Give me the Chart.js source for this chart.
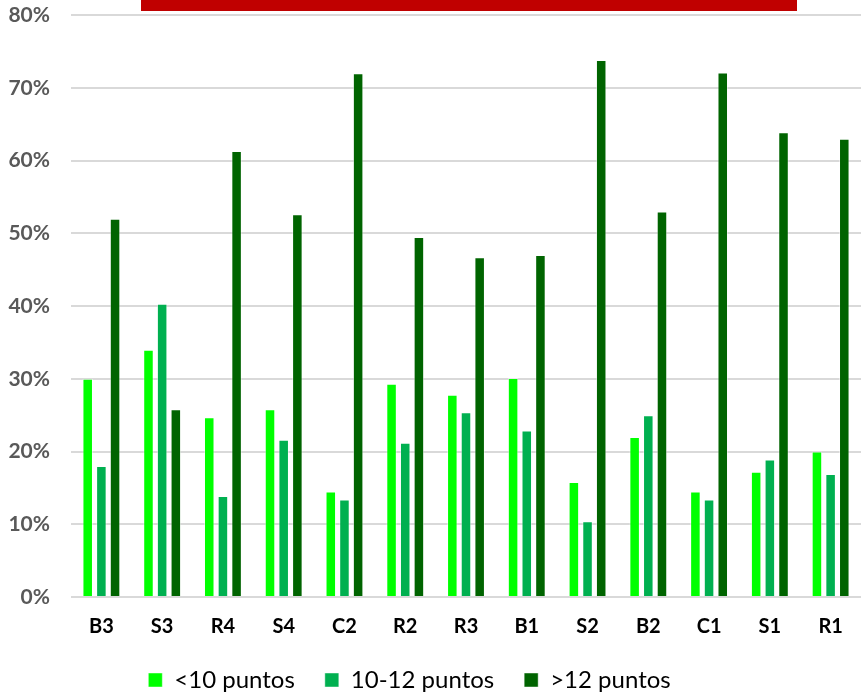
<!DOCTYPE html>
<html>
<head>
<meta charset="utf-8">
<script src="https://cdn.jsdelivr.net/npm/chart.js@4.4.1/dist/chart.umd.min.js"></script>
<style>
  html, body { margin: 0; padding: 0; background: #ffffff; }
  #wrap { width: 861px; height: 699px; position: relative; }
</style>
</head>
<body>
<div id="wrap"><canvas id="chart" width="861" height="699"></canvas></div>
<script>
// Groups along the x axis
const categories = ['B3', 'S3', 'R4', 'S4', 'C2', 'R2', 'R3', 'B1', 'S2', 'B2', 'C1', 'S1', 'R1'];

// Share of each group (%) per score band
const seriesNames = ['<10 puntos', '10-12 puntos', '>12 puntos'];
const menos10 = [30.0, 34.0, 24.7, 25.8, 14.5, 29.3, 27.8, 30.1, 15.8, 22.0, 14.5, 17.2, 20.0];
const entre10y12 = [18.0, 40.3, 13.9, 21.6, 13.4, 21.2, 25.4, 22.9, 10.4, 25.0, 13.4, 18.9, 16.9];
const mas12 = [52.0, 25.8, 61.3, 52.6, 72.0, 49.5, 46.7, 47.0, 73.8, 53.0, 72.1, 63.9, 63.0];

// Value axis ticks
const yTicks = [0, 10, 20, 30, 40, 50, 60, 70, 80];

const colors = ['#00FF00', '#00B050', '#006400'];
const seriesValues = [menos10, entre10y12, mas12];

// Red header band across the top
const headerBand = {
  id: 'headerBand',
  beforeDraw(chart) {
    const ctx = chart.ctx;
    ctx.save();
    ctx.fillStyle = '#C00000';
    ctx.fillRect(141, 0, 656, 11);
    ctx.restore();
  }
};

// Nudge the legend row a little left of centre and slightly lower
const legendOffset = {
  id: 'legendOffset',
  afterLayout(chart) {
    const lg = chart.legend;
    if (lg) {
      lg.left -= 21; lg.right -= 21;
      lg.top += 3; lg.bottom += 3;
    }
  }
};

new Chart(document.getElementById('chart'), {
  type: 'bar',
  data: {
    labels: categories,
    datasets: seriesValues.map((vals, i) => ({
      label: seriesNames[i],
      data: vals,
      backgroundColor: colors[i],
      borderColor: 'rgba(255,255,255,0.45)',
      borderWidth: 1,
      categoryPercentage: 0.675,
      barPercentage: 0.77
    }))
  },
  options: {
    responsive: false,
    animation: false,
    layout: { padding: { top: 15, left: 0, right: 0, bottom: 0 } },
    plugins: {
      legend: {
        position: 'bottom',
        labels: {
          boxWidth: 14,
          boxHeight: 14,
          padding: 30,
          color: '#000000',
          font: { family: 'Lato', size: 24 }
        }
      },
      tooltip: { enabled: false }
    },
    scales: {
      x: {
        afterFit(scale) { scale.height = scale.height - 22; },
        grid: { display: false, drawTicks: false },
        border: { display: false },
        ticks: {
          color: '#000000',
          padding: 18,
          font: { family: 'Lato', size: 20, weight: 'bold' }
        }
      },
      y: {
        min: 0,
        max: 80,
        afterFit(scale) {
          scale.width = 71;
          scale.paddingTop = 0;
          scale.paddingBottom = 0;
        },
        afterBuildTicks(scale) { scale.ticks = yTicks.map(v => ({ value: v })); },
        grid: { color: '#D9D9D9', lineWidth: 2, drawTicks: false },
        border: { display: false },
        ticks: {
          color: '#595959',
          padding: 21,
          font: { family: 'Lato', size: 21, weight: 'bold' },
          callback: v => v + '%'
        }
      }
    }
  },
  plugins: [headerBand, legendOffset]
});
</script>
</body>
</html>
